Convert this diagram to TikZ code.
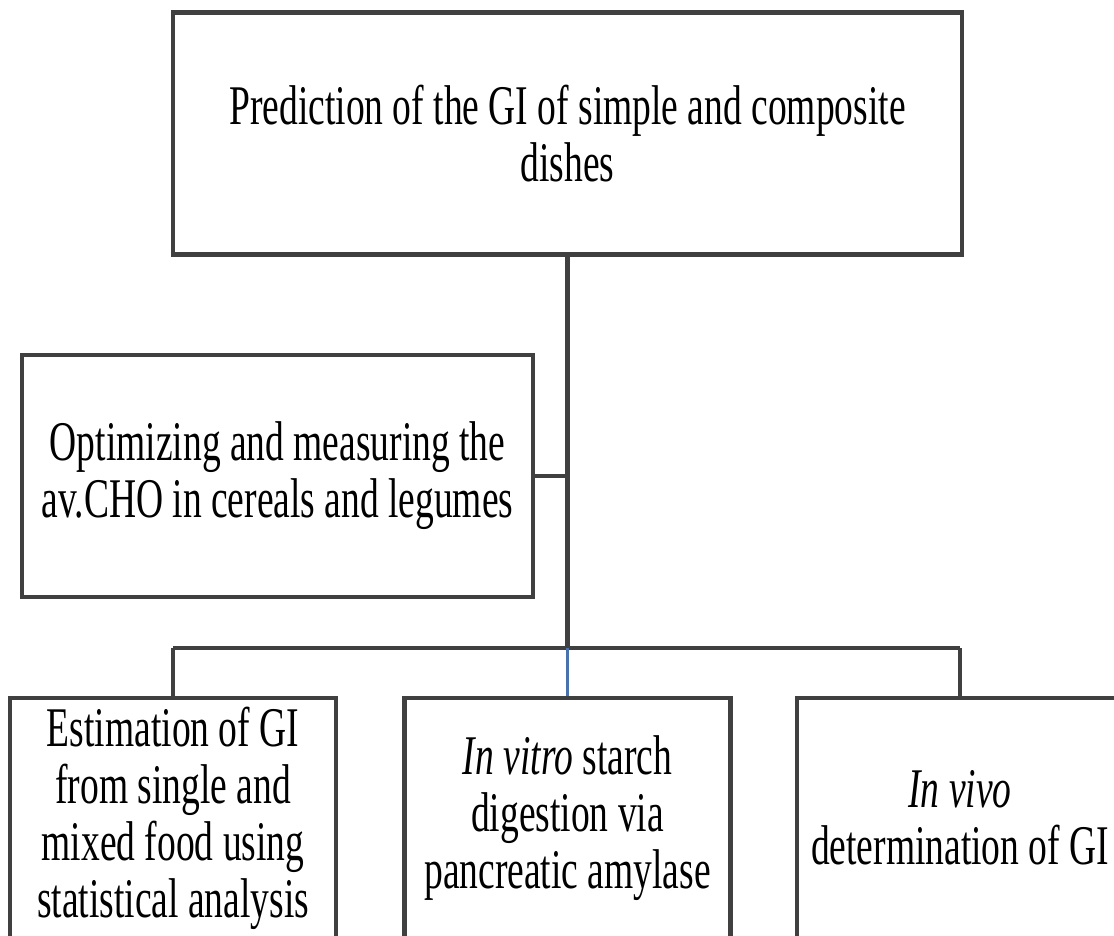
\documentclass[tikz,border=0pt]{standalone}
\usepackage{fontspec}
\setmainfont{Liberation Serif}[FakeStretch=0.67]
\definecolor{linegray}{HTML}{404040}
\definecolor{dropblue}{HTML}{4A72AC}
\begin{document}
\begin{tikzpicture}[x=1pt,y=-1pt,
  box/.style={draw=linegray, line width=4.5pt, align=center, inner sep=0pt,
    font=\fontsize{56}{57}\selectfont},
  conn/.style={draw=linegray, line width=4.5pt},
  blueconn/.style={draw=dropblue, line width=3pt}]
\useasboundingbox (0,0) rectangle (1114,935);
\node[box, minimum width=789pt, minimum height=242pt] (top) at (567.5,133.5)
  {Prediction of the GI of simple and composite\\dishes};
\node[box, minimum width=511pt, minimum height=242pt] (mid) at (277.5,476)
  {Optimizing and measuring the\\av.CHO in cereals and legumes};
\node[box, minimum width=326pt, minimum height=240pt] (bl) at (173,818)
  {Estimation of GI\\from single and\\mixed food using\\statistical analysis};
\node[box, minimum width=326pt, minimum height=240pt] (bm) at (567.5,818)
  {\textit{In vitro} starch\\digestion via\\pancreatic amylase};
\node[box, minimum width=326pt, minimum height=240pt] (br) at (960,818)
  {\textit{In vivo}\\determination of GI};
\coordinate (busC) at (567.5,648);
\draw[conn] (top.south) -- (busC);
\draw[conn] (mid.east) -- (mid.east -| busC);
\draw[conn] (bl.north |- busC) -- (br.north |- busC);
\draw[conn] (bl.north |- busC) -- (bl.north);
\draw[conn] (br.north |- busC) -- (br.north);
\draw[blueconn] (busC) -- (bm.north);
\end{tikzpicture}
\end{document}
